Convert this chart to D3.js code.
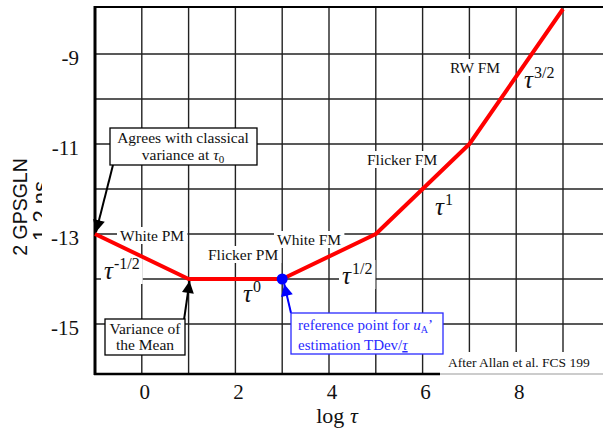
<!DOCTYPE html>
<html>
<head>
<meta charset="utf-8">
<script src="https://cdn.jsdelivr.net/npm/d3@7"></script>
<style>
  body { margin: 0; background: #fff; }
</style>
</head>
<body>
<script>
// corner points of the noise-type curve (log tau, log deviation)
var logTau = [-1, 1, 3, 5, 7, 9];
var logDev = [-13, -14, -14, -13, -11, -8];
var refPoint = [3, -14];

var xTickVals = [0, 2, 4, 6, 8];
var yTickVals = [-9, -11, -13, -15];
var gridXVals = [0, 1, 2, 3, 4, 5, 6, 7, 8, 9];
var gridYVals = [-9, -10, -11, -12, -13, -14, -15];

var noiseNames = ["White PM", "Flicker PM", "White FM", "Flicker FM", "RW FM"];
var slopeLabels = ["-1/2", "0", "1/2", "1", "3/2"];

var W = 603, H = 429;
var SERIF = "'Liberation Serif', 'Times New Roman', serif";
var SANS = "'Liberation Sans', Arial, sans-serif";
var svg = d3.select("body").append("svg").attr("width", W).attr("height", H);

var x = d3.scaleLinear().domain([-1, 9]).range([95, 563]);
var y = d3.scaleLinear().domain([-8, -16]).range([9, 369]);
var frameTop = 7, frameBottom = 374, frameLeft = x(-1);

// arrow heads
var defs = svg.append("defs");
function marker(id, col) {
  defs.append("marker").attr("id", id)
    .attr("viewBox", "0 0 10 10").attr("refX", 10).attr("refY", 5)
    .attr("markerUnits", "userSpaceOnUse")
    .attr("markerWidth", 13).attr("markerHeight", 12)
    .attr("orient", "auto")
    .append("path").attr("d", "M0,0 L10,5 L0,10 Z").attr("fill", col);
}
marker("ab", "#000");
marker("ablue", "#0000ff");

defs.append("clipPath").attr("id", "ylabclip")
  .append("rect").attr("x", 0).attr("y", 0).attr("width", 42).attr("height", H);

//////////////////////// grid ////////////////////////
svg.selectAll("line.gx").data(gridXVals).enter().append("line")
  .attr("x1", function(d) { return x(d); }).attr("x2", function(d) { return x(d); })
  .attr("y1", frameTop).attr("y2", frameBottom)
  .style("stroke", "#222").style("stroke-width", 1.4);

svg.selectAll("line.gy").data(gridYVals).enter().append("line")
  .attr("x1", frameLeft).attr("x2", W)
  .attr("y1", function(d) { return y(d); }).attr("y2", function(d) { return y(d); })
  .style("stroke", "#222").style("stroke-width", 1.4);

function txt(px, py, size, col, anchor) {
  return svg.append("text").attr("x", px).attr("y", py)
    .style("font-family", SERIF)
    .attr("font-size", size).attr("fill", col).attr("text-anchor", anchor || "start");
}

// label helper: text with white backing that breaks the grid
function label(px, py, size, parts) {
  var g = svg.append("g");
  var bg = g.append("rect").attr("fill", "#fff");
  var t = g.append("text").attr("x", px).attr("y", py)
    .style("font-family", SERIF)
    .attr("font-size", size).attr("fill", "#111");
  parts.forEach(function(p) {
    var s = t.append("tspan").text(p.t);
    if (p.italic) s.attr("font-style", "italic");
    if (p.size) s.attr("font-size", p.size);
    if (p.dy) s.attr("dy", p.dy);
    if (p.dx) s.attr("dx", p.dx);
  });
  var b = t.node().getBBox();
  bg.attr("x", b.x - 3).attr("y", b.y).attr("width", b.width + 6).attr("height", b.height);
  return g;
}

// noise type names
var namePos = [[120, 241], [208, 260], [277, 245], [367, 165], [450, 73]];
noiseNames.forEach(function(n, i) {
  label(namePos[i][0], namePos[i][1], 15.5, [{t: n}]);
});

// slope labels tau^a
var slopePos = [[104, 279], [243, 302], [342, 284], [435, 215], [524, 88]];
slopeLabels.forEach(function(s, i) {
  label(slopePos[i][0], slopePos[i][1], 25, [
    {t: "\u03c4", italic: true},
    {t: s, size: 16, dy: -10, dx: 1}
  ]);
});

// after allan box (covers grid at bottom right)
svg.append("rect").attr("x", 440).attr("y", 352).attr("width", W - 440).attr("height", frameBottom - 352)
  .attr("fill", "#fff");
txt(448, 367, 13.5, "#111").text("After Allan et al. FCS 199");

//////////////////////// frame ////////////////////////
svg.append("line").attr("x1", frameLeft).attr("x2", frameLeft).attr("y1", frameTop - 1).attr("y2", frameBottom + 1)
  .style("stroke", "#000").style("stroke-width", 3);
svg.append("line").attr("x1", frameLeft - 1).attr("x2", W).attr("y1", frameTop).attr("y2", frameTop)
  .style("stroke", "#000").style("stroke-width", 2);
svg.append("line").attr("x1", frameLeft - 1).attr("x2", 440).attr("y1", frameBottom).attr("y2", frameBottom)
  .style("stroke", "#000").style("stroke-width", 2.5);
svg.append("line").attr("x1", 440).attr("x2", W).attr("y1", frameBottom).attr("y2", frameBottom)
  .style("stroke", "#999").style("stroke-width", 1.2);

//////////////////////// curve ////////////////////////
var pts = logTau.map(function(d, i) { return [d, logDev[i]]; });
svg.append("path").datum(pts)
  .attr("d", d3.line().x(function(d) { return x(d[0]); }).y(function(d) { return y(d[1]); }))
  .attr("fill", "none").style("stroke", "#ff0000").style("stroke-width", 4)
  .style("stroke-linejoin", "round");

svg.append("circle").attr("cx", x(refPoint[0])).attr("cy", y(refPoint[1])).attr("r", 5.5)
  .attr("fill", "#0000ff");

//////////////////////// axes text ////////////////////////
svg.selectAll("text.yt").data(yTickVals).enter().append("text")
  .attr("x", 79).attr("y", function(d) { return y(d) + 11; })
  .style("font-family", SERIF)
  .attr("text-anchor", "end").attr("font-size", 21).attr("fill", "#111")
  .text(function(d) { return d; });

svg.selectAll("text.xt").data(xTickVals).enter().append("text")
  .attr("x", function(d) { return x(d) + 3; }).attr("y", 399)
  .style("font-family", SERIF)
  .attr("text-anchor", "middle").attr("font-size", 21).attr("fill", "#111")
  .text(function(d) { return d; });

var xl = txt(337, 423, 22, "#111", "middle");
xl.append("tspan").text("log ");
xl.append("tspan").attr("font-style", "italic").text("\u03c4");

svg.append("text").attr("transform", "translate(27,207) rotate(-90)")
  .attr("text-anchor", "middle").attr("font-size", 19.5).attr("fill", "#111")
  .style("font-family", SANS)
  .text("2 GPSGLN");
svg.append("g").attr("clip-path", "url(#ylabclip)")
  .append("text").attr("transform", "translate(48,211) rotate(-90)")
  .attr("text-anchor", "middle").attr("font-size", 22).attr("fill", "#111")
  .style("font-family", SANS)
  .text("1 2 ns");

//////////////////////// annotations ////////////////////////
function box(x0, y0, x1, y1, col) {
  svg.append("rect").attr("x", x0).attr("y", y0).attr("width", x1 - x0).attr("height", y1 - y0)
    .attr("fill", "#fff").style("stroke", col).style("stroke-width", 1.3);
}
function arrow(x0, y0, x1, y1, col, id) {
  svg.append("line").attr("x1", x0).attr("y1", y0).attr("x2", x1).attr("y2", y1)
    .style("stroke", col).style("stroke-width", 2).attr("marker-end", "url(#" + id + ")");
}

// agrees with classical variance
arrow(113, 165, x(logTau[0]) + 1, y(logDev[0]) - 2, "#000", "ab");
box(110, 128, 257, 165, "#000");
txt(183, 143, 15.5, "#111", "middle").text("Agrees with classical");
var t2 = txt(183, 160, 15.5, "#111", "middle");
t2.append("tspan").text("variance at ");
t2.append("tspan").attr("font-style", "italic").text("\u03c4");
t2.append("tspan").attr("font-size", 11).attr("dy", 3).text("0");

// variance of the mean
arrow(184, 320, x(logTau[1]) + 1, y(logDev[1]) + 2, "#000", "ab");
box(105, 319, 185, 355, "#000");
txt(145, 334, 15.5, "#111", "middle").text("Variance of");
txt(145, 350, 15.5, "#111", "middle").text("the Mean");

// reference point
var blue = "#2a2aff";
arrow(291, 313, x(refPoint[0]) + 2, y(refPoint[1]) + 5, "#0000ff", "ablue");
box(291, 313, 443, 354, blue);
var b1 = txt(298, 330, 15, blue);
b1.append("tspan").text("reference point for ");
b1.append("tspan").attr("font-style", "italic").text("u");
b1.append("tspan").attr("font-size", 10).attr("dy", 3).text("A");
b1.append("tspan").attr("dy", -3).text("\u2019");
var b2 = txt(298, 350, 15, blue);
b2.append("tspan").text("estimation TDev/");
b2.append("tspan").attr("font-style", "italic").attr("text-decoration", "underline").text("\u03c4");
</script>
</body>
</html>
